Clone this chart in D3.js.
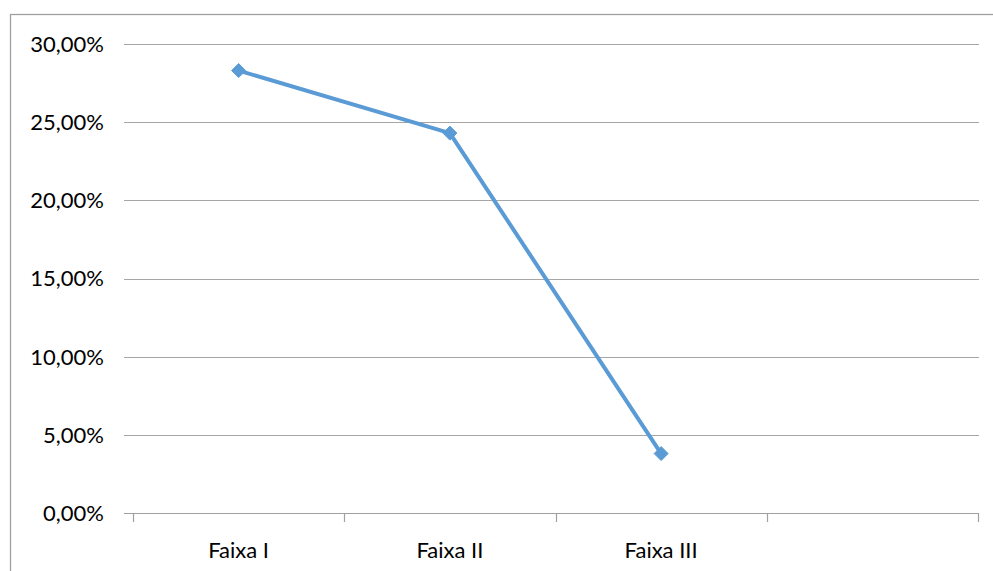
<!DOCTYPE html>
<html>
<head>
<meta charset="utf-8">
<script src="https://cdn.jsdelivr.net/npm/d3@7"></script>
<style>
  html, body { margin: 0; padding: 0; background: #fff; overflow: hidden; }
  svg { display: block; }
  text { font-family: Lato, "Open Sans", sans-serif; fill: #000; }
</style>
</head>
<body>
<svg id="chart" width="993" height="571"></svg>
<script>
// Categories on the horizontal axis (the last slot is empty)
const categories = ["Faixa I", "Faixa II", "Faixa III", ""];
// Share per band, in percent
const values = [28.3, 24.3, 3.8];
// Vertical axis ticks, in percent
const yTicks = [0, 5, 10, 15, 20, 25, 30];

const svg = d3.select("#chart");
const width = 993, height = 571;
const plot = { left: 133, right: 978, top: 44, bottom: 513 };

// Chart area frame (only its top and left edges fall inside the view)
svg.append("rect")
  .attr("x", 10.5).attr("y", 14.5)
  .attr("width", 1200).attr("height", 800)
  .attr("fill", "none")
  .attr("stroke", "#a0a0a0")
  .attr("stroke-width", 1.3);

const x = d3.scaleBand()
  .domain(categories.map((c, i) => i))
  .range([plot.left, plot.right])
  .paddingInner(0).paddingOuter(0);

const y = d3.scaleLinear()
  .domain([0, 30])
  .range([plot.bottom, plot.top]);

const fmt = v => d3.format(".2f")(v).replace(".", ",") + "%";

// Horizontal gridlines
svg.append("g")
  .selectAll("line")
  .data(yTicks.filter(t => t !== 0))
  .join("line")
  .attr("x1", plot.left - 9).attr("x2", plot.right + 1)
  .attr("y1", d => Math.round(y(d)) + 0.5)
  .attr("y2", d => Math.round(y(d)) + 0.5)
  .attr("stroke", "#a6a6a6")
  .attr("stroke-width", 1.2);

// Y tick labels
svg.append("g")
  .selectAll("text")
  .data(yTicks)
  .join("text")
  .attr("x", 104)
  .attr("y", d => y(d))
  .attr("dy", "0.36em")
  .attr("text-anchor", "end")
  .attr("font-size", 22)
  .text(fmt);

// Category axis: baseline, tick marks, labels
const xAxis = svg.append("g");
xAxis.append("line")
  .attr("x1", plot.left - 9).attr("x2", plot.right + 1)
  .attr("y1", Math.round(y(0)) + 0.5).attr("y2", Math.round(y(0)) + 0.5)
  .attr("stroke", "#a0a0a0")
  .attr("stroke-width", 1.2);

const tickXs = categories.map((c, i) => x(i)).concat([x(categories.length - 1) + x.bandwidth()]);
xAxis.selectAll("line.tick")
  .data(tickXs)
  .join("line")
  .attr("class", "tick")
  .attr("x1", d => Math.round(d) + 0.5).attr("x2", d => Math.round(d) + 0.5)
  .attr("y1", y(0)).attr("y2", y(0) + 9)
  .attr("stroke", "#a0a0a0")
  .attr("stroke-width", 1.2);

xAxis.selectAll("text")
  .data(categories)
  .join("text")
  .attr("x", (d, i) => x(i) + x.bandwidth() / 2)
  .attr("y", 558)
  .attr("text-anchor", "middle")
  .attr("font-size", 22)
  .text(d => d);

// Series line
const line = d3.line()
  .x((d, i) => x(i) + x.bandwidth() / 2)
  .y(d => y(d));

svg.append("path")
  .datum(values)
  .attr("d", line)
  .attr("fill", "none")
  .attr("stroke", "#5b9bd5")
  .attr("stroke-width", 4)
  .attr("stroke-linejoin", "round");

// Diamond markers
svg.append("g")
  .selectAll("path")
  .data(values)
  .join("path")
  .attr("transform", (d, i) => `translate(${x(i) + x.bandwidth() / 2},${y(d)})`)
  .attr("d", "M0,-7L7,0L0,7L-7,0Z")
  .attr("fill", "#5b9bd5")
  .attr("stroke", "#5b9bd5")
  .attr("stroke-width", 1);
</script>
</body>
</html>
